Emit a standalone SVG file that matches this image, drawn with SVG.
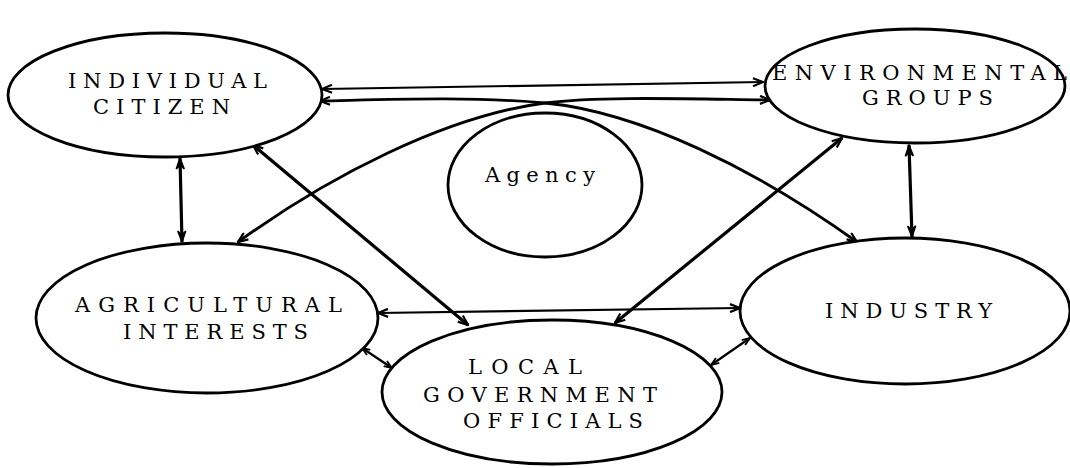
<svg xmlns="http://www.w3.org/2000/svg" width="1070" height="468" viewBox="0 0 1070 468">
<style>
.node ellipse{fill:#fff;stroke:#000;stroke-width:2.8}
.lbl{font-family:"DejaVu Serif","Liberation Serif",serif;font-size:21px;fill:#000}
.lc{font-family:"DejaVu Serif","Liberation Serif",serif;font-size:21px;fill:#000}
#connectors path,#connectors line{fill:none;stroke:#000;stroke-width:2.8}
#connectors .thin{stroke-width:2.2}
#connectors .thick{stroke-width:3.2}
</style>
<defs>
<marker id="ah" viewBox="0 0 12 10" refX="11" refY="5" markerWidth="12" markerHeight="10" orient="auto-start-reverse" markerUnits="userSpaceOnUse">
<path d="M1,1 L11,5 L1,9" fill="none" stroke="#000" stroke-width="2.2"/>
</marker>
<marker id="ahs" viewBox="0 0 10 8" refX="9" refY="4" markerWidth="10" markerHeight="8" orient="auto-start-reverse" markerUnits="userSpaceOnUse">
<path d="M1,1 L9,4 L1,7" fill="none" stroke="#000" stroke-width="1.8"/>
</marker>
<marker id="ahv" viewBox="0 0 12 10" refX="11" refY="5" markerWidth="14" markerHeight="10" orient="auto-start-reverse" markerUnits="userSpaceOnUse">
<path d="M0,1 L11,5 L0,9 L4,5 z" fill="#000" stroke="#000" stroke-width="1.5" stroke-linejoin="miter"/>
</marker>
</defs>
<rect width="1070" height="468" fill="#fff"/>
<g id="connectors">
<line x1="322" y1="89" x2="763" y2="82" class="thin" marker-start="url(#ah)" marker-end="url(#ah)"/>
<path d="M320,101 C375,100 470,96 545,103 C640,112 757,170 857,242" marker-start="url(#ah)" marker-end="url(#ah)"/>
<path d="M770,100 C690,99 600,96 545,103 C445,116 328,177 238,242" marker-start="url(#ah)" marker-end="url(#ah)"/>
<line x1="180" y1="158" x2="182" y2="242" class="thick" marker-start="url(#ahv)" marker-end="url(#ahv)"/>
<line x1="909" y1="145" x2="912" y2="237" class="thick" marker-start="url(#ahv)" marker-end="url(#ahv)"/>
<line x1="253" y1="145" x2="468" y2="325" class="thick" marker-start="url(#ah)" marker-end="url(#ah)"/>
<line x1="842" y1="138" x2="615" y2="323" class="thick" marker-start="url(#ah)" marker-end="url(#ah)"/>
<line x1="378" y1="313" x2="740" y2="308" class="thin" marker-start="url(#ah)" marker-end="url(#ah)"/>
<line x1="362" y1="348" x2="392" y2="368" class="thin" marker-start="url(#ahs)" marker-end="url(#ahs)"/>
<line x1="750" y1="338" x2="711" y2="365" class="thin" marker-start="url(#ahs)" marker-end="url(#ahs)"/>
</g>
<g id="individual-citizen" class="node">
<ellipse cx="165" cy="95" rx="157" ry="62"/>
<text class="lbl" x="68" y="88" textLength="199" lengthAdjust="spacing">INDIVIDUAL</text>
<text class="lbl" x="93" y="114" textLength="137" lengthAdjust="spacing">CITIZEN</text>
</g>
<g id="environmental-groups" class="node">
<ellipse cx="915" cy="86" rx="150" ry="57"/>
<text class="lbl" x="772" y="80" textLength="295" lengthAdjust="spacing">ENVIRONMENTAL</text>
<text class="lbl" x="862" y="105" textLength="131" lengthAdjust="spacing">GROUPS</text>
</g>
<g id="agency" class="node">
<ellipse cx="545" cy="185" rx="97" ry="72"/>
<text class="lc" x="485" y="182" textLength="110" lengthAdjust="spacing">Agency</text>
</g>
<g id="agricultural-interests" class="node">
<ellipse cx="207" cy="318" rx="171" ry="75"/>
<text class="lbl" x="75" y="312" textLength="267" lengthAdjust="spacing">AGRICULTURAL</text>
<text class="lbl" x="123" y="339" textLength="185" lengthAdjust="spacing">INTERESTS</text>
</g>
<g id="industry" class="node">
<ellipse cx="905" cy="311" rx="165" ry="73"/>
<text class="lbl" x="825" y="318" textLength="167" lengthAdjust="spacing">INDUSTRY</text>
</g>
<g id="local-government-officials" class="node">
<ellipse cx="552" cy="392" rx="170" ry="72"/>
<text class="lbl" x="468" y="374" textLength="114" lengthAdjust="spacing">LOCAL</text>
<text class="lbl" x="423" y="402" textLength="234" lengthAdjust="spacing">GOVERNMENT</text>
<text class="lbl" x="463" y="428" textLength="180" lengthAdjust="spacing">OFFICIALS</text>
</g>
</svg>
